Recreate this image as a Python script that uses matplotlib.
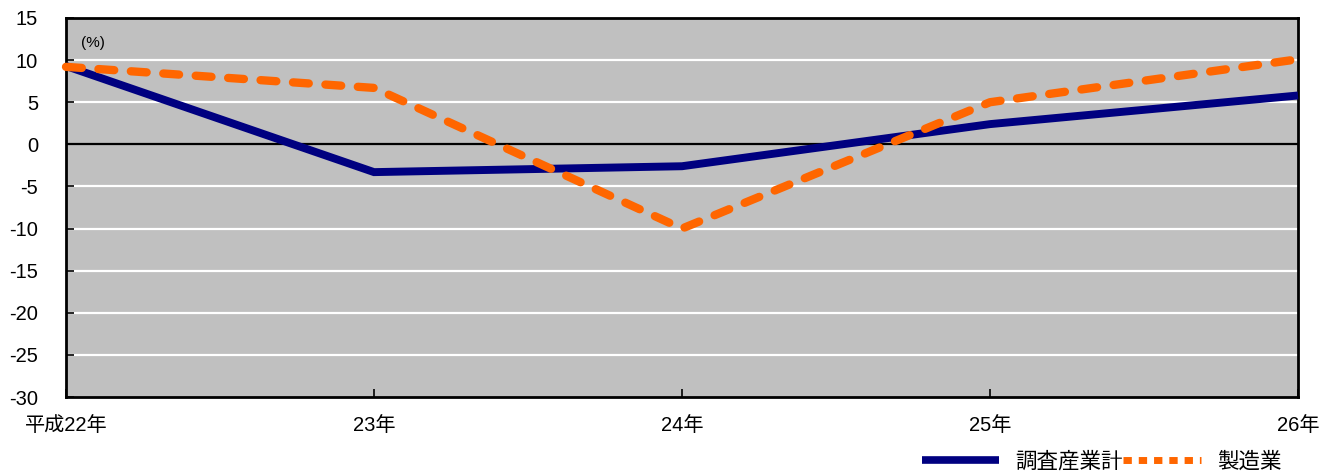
import matplotlib.pyplot as plt
from matplotlib.lines import Line2D

plt.rcParams['font.family'] = ['Liberation Sans', 'Noto Sans CJK JP']

# data
years = ["平成22年", "23年", "24年", "25年", "26年"]
total = [9.3, -3.3, -2.6, 2.4, 5.8]
manufacturing = [9.2, 6.7, -10.0, 5.0, 10.1]
y_ticks = [15, 10, 5, 0, -5, -10, -15, -20, -25, -30]

navy = "#000080"
orange = "#FF6600"

fig = plt.figure(figsize=(13.29, 4.73), dpi=100)
ax = fig.add_axes([66 / 1329, 76 / 473, 1232 / 1329, 379 / 473])
ax.set_facecolor("#C0C0C0")

x = list(range(len(years)))

# white grid lines and black zero line
for v in y_ticks:
    if v == 0:
        ax.axhline(v, color="black", lw=1.6, zorder=1)
    elif v not in (15, -30):
        ax.axhline(v, color="white", lw=1.6, zorder=1)

ax.plot(x, total, color=navy, lw=5.7, solid_capstyle="butt",
        solid_joinstyle="miter", zorder=3, clip_on=False)
ax.plot(x, manufacturing, color=orange, lw=6, dashes=(1.9, 2.0),
        dash_capstyle="round", zorder=4, clip_on=False)

ax.set_xlim(0, len(years) - 1)
ax.set_ylim(-30, 15)
ax.set_yticks(y_ticks)
ax.set_yticklabels([str(v) for v in y_ticks], fontsize=14.5)
ax.set_xticks(x)
ax.set_xticklabels(years, fontsize=14.5)
ax.tick_params(axis="y", direction="in", length=6, width=1.2, pad=20)
ax.tick_params(axis="x", direction="in", length=6, width=1.2, pad=14)
for s in ax.spines.values():
    s.set_linewidth(2)

ax.text(0.012, 0.935, "(%)", transform=ax.transAxes, fontsize=11,
        va="center", ha="left")

handles = [
    Line2D([], [], color=navy, lw=5.5, solid_capstyle="butt"),
    Line2D([], [], color=orange, lw=5, dashes=(1.2, 1.0),
           dash_capstyle="butt"),
]
fig.legend(handles, ["調査産業計", "製造業"], loc="center right",
           bbox_to_anchor=(1292 / 1329, 1 - 462 / 473), ncol=2, frameon=False,
           fontsize=15.5, handlelength=3.6, handletextpad=0.75,
           columnspacing=0.0, borderpad=0)

fig.savefig("out.png", dpi=100)
